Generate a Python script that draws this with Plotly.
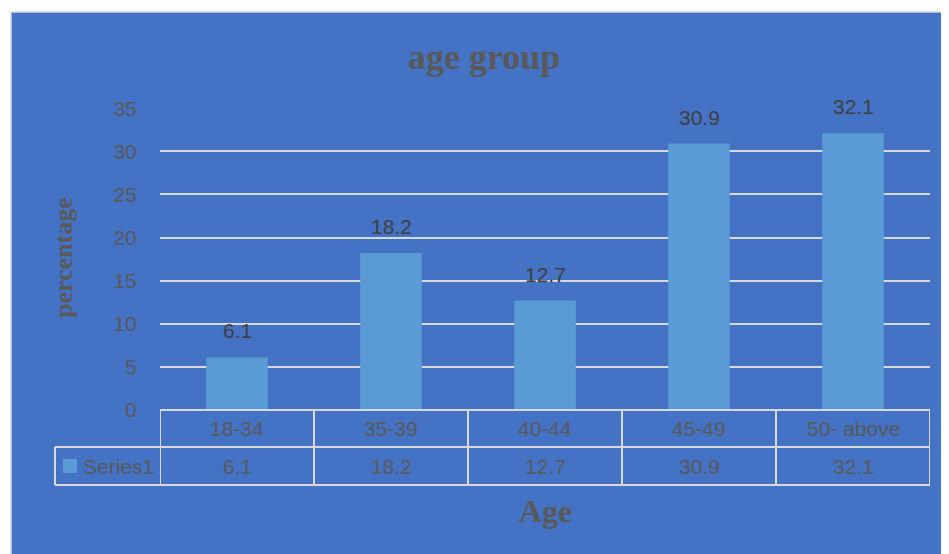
import plotly.graph_objects as go

categories = ["18-34", "35-39", "40-44", "45-49", "50- above"]
values = [6.1, 18.2, 12.7, 30.9, 32.1]
series_name = "Series1"
y_ticks = [0, 5, 10, 15, 20, 25, 30, 35]

BG = "#4472C4"
BAR = "#5B9BD5"
GRID = "#D9D9D9"
TXT = "#595959"
SANS = "Liberation Sans, Arial, sans-serif"
SERIF = "Liberation Serif, Times New Roman, serif"
FS = 21

# the page puts the figure 8px in from the corner, so work in page pixels
OFF = 8
W, H = 949 - OFF, 554 - OFF
PL, PR, PT, PB = 160, 930, 108, 410   # plot area in page pixels
L, R, T, B = PL - OFF, W - (PR - OFF), PT - OFF, H - (PB - OFF)
pw, ph = PR - PL, PB - PT

def px_x(x):  # page pixel -> paper x
    return (x - PL) / pw

def px_y(y):  # page pixel -> paper y
    return (PB - y) / ph

fig = go.Figure()

fig.add_trace(go.Bar(
    x=categories, y=values, name=series_name,
    marker=dict(color=BAR, line=dict(width=0)),
    width=0.4,
))

shapes = []
# blue chart area with thin border
shapes.append(dict(type="rect", xref="paper", yref="paper",
                   x0=px_x(11), x1=px_x(960), y0=px_y(565), y1=px_y(12),
                   fillcolor=BG, line=dict(color=GRID, width=1.5), layer="below"))

# data table below the axis
row1 = px_y(447)
row2 = px_y(485)
n = len(categories)
line = dict(color=GRID, width=2)
for yy in (0, row1, row2):
    shapes.append(dict(type="line", xref="x", yref="paper",
                       x0=-0.5, x1=n - 0.5, y0=yy, y1=yy, line=line))
for i in range(n + 1):
    shapes.append(dict(type="line", xref="x", yref="paper",
                       x0=i - 0.5, x1=i - 0.5, y0=0, y1=row2, line=line))
# legend cell
shapes.append(dict(type="line", xref="paper", yref="paper",
                   x0=px_x(55), x1=0, y0=row1, y1=row1, line=line))
shapes.append(dict(type="line", xref="paper", yref="paper",
                   x0=px_x(55), x1=0, y0=row2, y1=row2, line=line))
shapes.append(dict(type="line", xref="paper", yref="paper",
                   x0=px_x(55), x1=px_x(55), y0=row1, y1=row2, line=line))
shapes.append(dict(type="rect", xref="paper", yref="paper",
                   x0=px_x(63), x1=px_x(77), y0=px_y(473), y1=px_y(459),
                   fillcolor=BAR, line=dict(width=0)))

def note(x, y, text, font, xref="paper", yref="paper", **kw):
    d = dict(x=x, y=y, xref=xref, yref=yref, text=text, showarrow=False,
             xanchor="center", yanchor="middle", font=font)
    d.update(kw)
    return d

table_font = dict(family=SANS, size=FS, color=TXT)
annotations = []
for c, v in zip(categories, values):
    annotations.append(note(c, v, str(v), dict(family=SANS, size=FS, color="#404040"),
                            xref="x", yref="y", yanchor="bottom", yshift=13))
    annotations.append(note(c, (0 + row1) / 2, c, table_font, xref="x"))
    annotations.append(note(c, (row1 + row2) / 2, str(v), table_font, xref="x"))
annotations.append(note(px_x(81), (row1 + row2) / 2, series_name, table_font,
                        xanchor="left"))
# titles
annotations.append(note(px_x(484), px_y(57), "<b>age group</b>",
                        dict(family=SERIF, size=36, color=TXT)))
annotations.append(note(px_x(63), px_y(258), "<b>percentage</b>",
                        dict(family=SERIF, size=26, color=TXT), textangle=-90))
annotations.append(note(px_x(545), px_y(511), "<b>Age</b>",
                        dict(family=SERIF, size=32, color=TXT)))

fig.update_layout(
    width=W, height=H,
    margin=dict(l=L, r=R, t=T, b=B),
    paper_bgcolor="white",
    plot_bgcolor="rgba(0,0,0,0)",
    showlegend=False,
    shapes=shapes,
    annotations=annotations,
    xaxis=dict(showticklabels=False, showgrid=False, zeroline=False,
               showline=False, range=[-0.5, n - 0.5]),
    yaxis=dict(range=[0, 35.03], tickvals=y_ticks, showgrid=True,
               gridcolor=GRID, gridwidth=2, zeroline=False, showline=False,
               ticks="outside", ticklen=18, tickcolor="rgba(0,0,0,0)",
               tickfont=dict(family=SANS, size=FS, color=TXT)),
)

fig.write_html("out.html")
